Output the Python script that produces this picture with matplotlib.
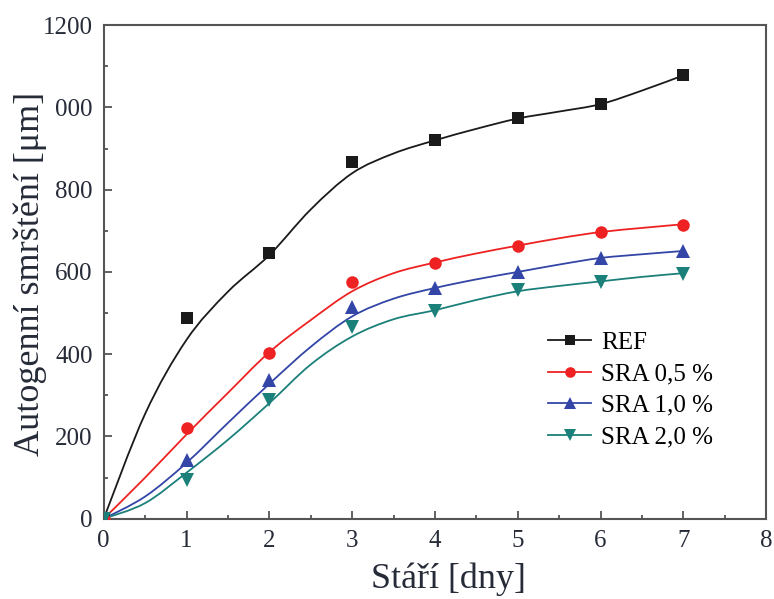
import numpy as np
import matplotlib
matplotlib.use("Agg")
import matplotlib.pyplot as plt
from matplotlib.path import Path
from matplotlib.patches import PathPatch
from matplotlib.ticker import MultipleLocator

###
# Data
###

days = [0, 1, 2, 3, 4, 5, 6, 7]
ref = [0, 488, 646, 867, 921, 974, 1009, 1078]
sra_05 = [0, 221, 403, 576, 622, 663, 696, 715]
sra_10 = [0, 143, 338, 515, 561, 600, 634, 651]
sra_20 = [0, 95, 289, 466, 504, 556, 576, 596]

# fitted curves, read at half-day steps
fit_days = [0, 0.5, 1, 1.5, 2, 2.5, 3, 3.5, 4, 4.5, 5, 5.5, 6, 6.5, 7]
ref_fit = [0, 255, 435, 552, 641, 752, 840, 888, 920, 948, 973, 990, 1008, 1041, 1078]
sra_05_fit = [0, 100, 205, 306, 405, 483, 553, 597, 623, 645, 664, 682, 697, 707, 716]
sra_10_fit = [0, 54, 136, 233, 328, 418, 492, 535, 561, 582, 600, 618, 634, 643, 651]
sra_20_fit = [0, 38, 112, 192, 281, 375, 443, 485, 507, 532, 553, 566, 577, 588, 597]

labels = ["REF", "SRA 0,5 %", "SRA 1,0 %", "SRA 2,0 %"]
ytick_vals = [0, 200, 400, 600, 800, 1000, 1200]
ytick_text = ["0", "200", "400", "600", "800", "000", "1200"]


def smooth_path(xs, ys):
    # Catmull-Rom through the read points, drawn as cubic Bezier segments
    p = np.column_stack([xs, ys]).astype(float)
    verts = [p[0]]
    codes = [Path.MOVETO]
    for i in range(len(p) - 1):
        p0 = p[i - 1] if i > 0 else p[i]
        p3 = p[i + 2] if i + 2 < len(p) else p[i + 1]
        c1 = p[i] + (p[i + 1] - p0) / 6
        c2 = p[i + 1] - (p3 - p[i]) / 6
        verts += [c1, c2, p[i + 1]]
        codes += [Path.CURVE4] * 3
    return Path(verts, codes)


###
# Plotting
###

plt.rcParams["font.family"] = ["Liberation Serif", "DejaVu Serif"]
text_col = "#262b38"

fig = plt.figure(figsize=(7.74, 5.99), dpi=100)
ax = fig.add_axes([0.134, 0.134, 0.856, 0.824])

series = [
    (ref, ref_fit, "#1a1a1a", "s", 8.5),
    (sra_05, sra_05_fit, "#ee2222", "o", 9),
    (sra_10, sra_10_fit, "#3345a6", "^", 9.5),
    (sra_20, sra_20_fit, "#1b807a", "v", 9.5),
]

handles = []
for (vals, fit, col, mk, ms), lab in zip(series, labels):
    ax.add_patch(PathPatch(smooth_path(fit_days, fit), fill=False,
                           edgecolor=col, lw=1.3, zorder=2))
    ax.plot(days, vals, ls="none", marker=mk, ms=ms, color=col,
            markeredgewidth=0, zorder=3)
    h, = ax.plot([], [], color=col, lw=1.3, marker=mk, ms=ms * 0.85,
                 markeredgewidth=0, label=lab)
    handles.append(h)

ax.set_xlim(0, 8)
ax.set_ylim(0, 1200)
ax.xaxis.set_major_locator(MultipleLocator(1))
ax.xaxis.set_minor_locator(MultipleLocator(0.5))
ax.set_yticks(ytick_vals)
ax.set_yticklabels(ytick_text)
ax.yaxis.set_minor_locator(MultipleLocator(100))

ax.tick_params(which="both", direction="in", colors="#555555",
               labelcolor=text_col, labelsize=18, width=1.3)
ax.tick_params(which="major", length=6, pad=8)
ax.tick_params(which="minor", length=3)
ax.tick_params(top=False, right=False)
for sp in ax.spines.values():
    sp.set_color("#555555")
    sp.set_linewidth(1.5)

ax.set_xlabel("Stáří [dny]", fontsize=26, color=text_col)
ax.xaxis.set_label_coords(0.521, -0.088)
ax.set_ylabel("Autogenní smrštění [μm]", fontsize=26, color=text_col)
ax.yaxis.set_label_coords(-0.085, 0.495)

ax.legend(handles=handles, loc="upper left", bbox_to_anchor=(0.656, 0.40),
          frameon=False, fontsize=18, handlelength=1.7, handletextpad=0.4,
          labelspacing=0.36, borderaxespad=0)

fig.savefig("out.png", dpi=100)
